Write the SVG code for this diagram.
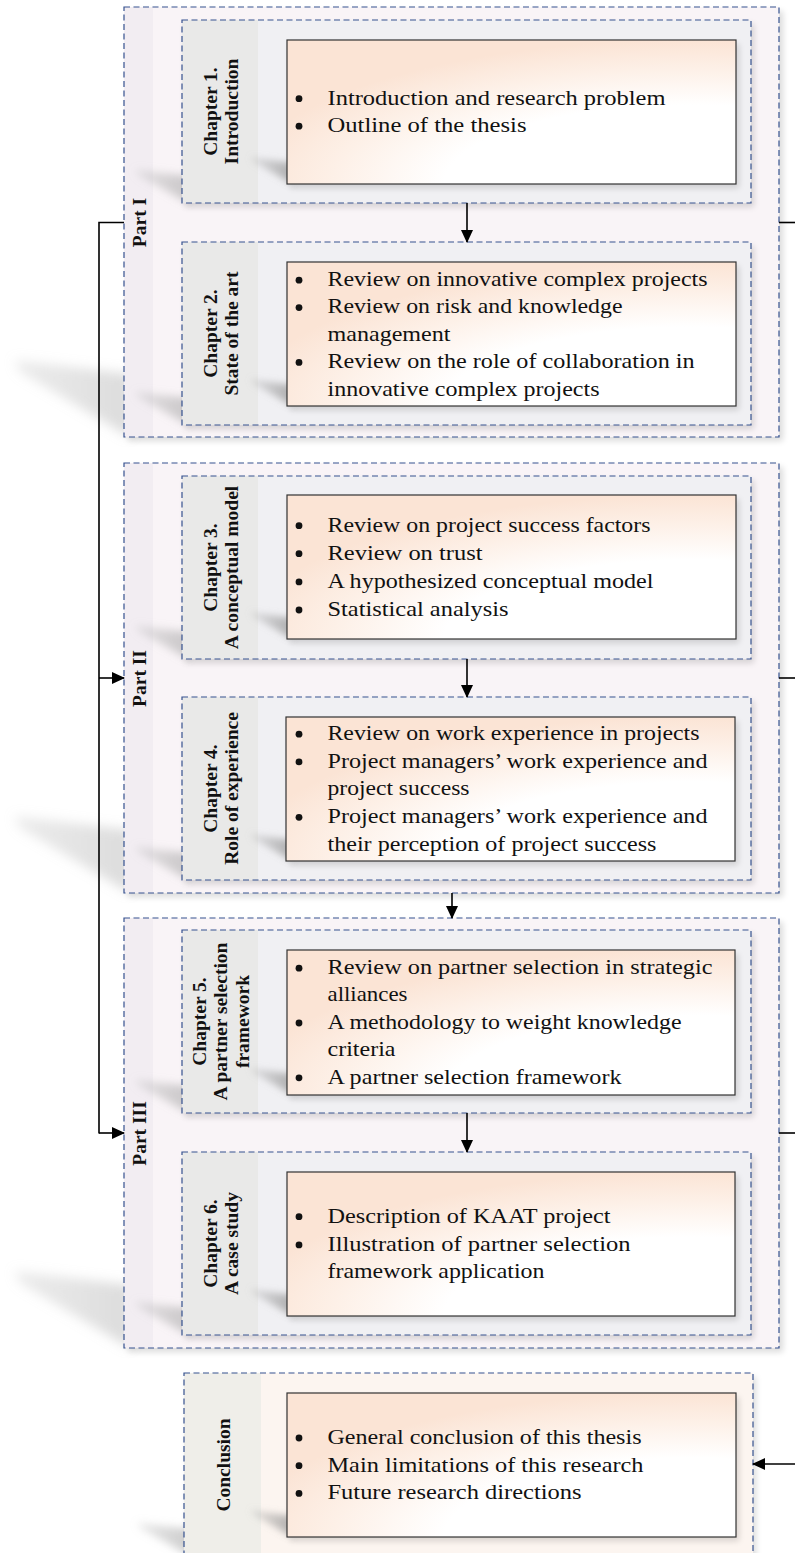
<svg xmlns="http://www.w3.org/2000/svg" width="795" height="1553" viewBox="0 0 795 1553">
<defs>
<style>
.pbg{fill:#f9f4f7}
.strip{fill:#f2edf2}
.dash{fill:none;stroke:#36528f;stroke-width:1.2;stroke-dasharray:6 3.5}
.cbg{fill:#f0f0f3}
.lab{fill:#e9e9e8}
.kbg{fill:#fcf5f0}
.klab{fill:#efeee9}
.box{fill:url(#cg);stroke:#333;stroke-width:1.2}
.ds{fill:#000;opacity:0.14;filter:url(#b3)}
.t{font-family:"Liberation Serif","Times New Roman",serif;font-size:21.5px;fill:#111}
.lbl{font-family:"Liberation Serif","Times New Roman",serif;font-size:19.5px;font-weight:bold;fill:#111;text-anchor:middle}
.conn{fill:none;stroke:#000;stroke-width:1.6}
.bul{fill:#111}
.ps{fill:url(#sg1);filter:url(#b6)}
.cs{fill:url(#sg2);filter:url(#b5)}
.ks{fill:url(#sg3);filter:url(#b4)}
</style>
<radialGradient id="cg" cx="0.9" cy="1" r="1" fx="0.9" fy="1">
<stop offset="0" stop-color="#ffffff"/>
<stop offset="0.55" stop-color="#ffffff"/>
<stop offset="0.8" stop-color="#fdf0e7"/>
<stop offset="1" stop-color="#fbe4d5"/>
</radialGradient>
<linearGradient id="sg1" x1="0" y1="0" x2="1" y2="0">
<stop offset="0" stop-color="#c0c0c0" stop-opacity="0.3"/>
<stop offset="1" stop-color="#b0b0b0" stop-opacity="0.45"/>
</linearGradient>
<linearGradient id="sg2" x1="0" y1="0" x2="1" y2="0">
<stop offset="0" stop-color="#b0b0b0" stop-opacity="0.3"/>
<stop offset="1" stop-color="#9a9a9a" stop-opacity="0.5"/>
</linearGradient>
<linearGradient id="sg3" x1="0" y1="0" x2="1" y2="0">
<stop offset="0" stop-color="#a0a0a0" stop-opacity="0.25"/>
<stop offset="1" stop-color="#808080" stop-opacity="0.6"/>
</linearGradient>
<filter id="b6" x="-50%" y="-50%" width="200%" height="200%"><feGaussianBlur stdDeviation="6"/></filter>
<filter id="b5" x="-50%" y="-50%" width="200%" height="200%"><feGaussianBlur stdDeviation="4.5"/></filter>
<filter id="b4" x="-50%" y="-50%" width="200%" height="200%"><feGaussianBlur stdDeviation="3.5"/></filter>
<filter id="b3" x="-50%" y="-50%" width="200%" height="200%"><feGaussianBlur stdDeviation="3"/></filter>
<marker id="ah" markerUnits="userSpaceOnUse" markerWidth="13" markerHeight="12" refX="12" refY="6" orient="auto">
<path d="M0,0 L13,6 L0,12 z" fill="#000"/>
</marker>
</defs>

<!-- Part I -->
<g id="part1">
<polygon class="ps" points="130,437 20,372 14,360 130,374"/>
<rect class="ds" x="128" y="11" width="655" height="430" opacity="0.08"/>
<rect class="pbg" x="124" y="7" width="655" height="430"/>
<rect class="strip" x="124" y="7" width="29" height="430"/>
<rect class="dash" x="124" y="7" width="655" height="430"/>
<text class="lbl" transform="translate(146,222.5) rotate(-90)">Part I</text>
</g>
<g id="ch1">
<polygon class="cs" points="188,203 140,176 135,170 188,176"/>
<rect class="ds" x="185" y="24" width="569" height="183" opacity="0.08"/>
<rect class="cbg" x="182" y="20" width="569" height="183"/>
<rect class="lab" x="182" y="20" width="76" height="183"/>
<rect class="dash" x="182" y="20" width="569" height="183"/>
<text class="lbl" transform="translate(216.5,111.5) rotate(-90)">Chapter 1.</text>
<text class="lbl" transform="translate(238,111.5) rotate(-90)">Introduction</text>
<polygon class="ks" points="292,184 254,162 250,157 292,163"/>
<rect class="ds" x="290" y="44" width="449" height="144"/>
<rect class="box" x="287" y="40" width="449" height="144"/>
<circle class="bul" cx="299" cy="98.7" r="3.4"/>
<circle class="bul" cx="299" cy="126.2" r="3.4"/>
<text class="t" x="327.5" y="104.5" textLength="338" lengthAdjust="spacingAndGlyphs">Introduction and research problem</text>
<text class="t" x="327.5" y="132" textLength="199" lengthAdjust="spacingAndGlyphs">Outline of the thesis</text>
</g>
<g id="ch2">
<polygon class="cs" points="188,425 140,398 135,392 188,398"/>
<rect class="ds" x="185" y="246" width="569" height="183" opacity="0.08"/>
<rect class="cbg" x="182" y="242" width="569" height="183"/>
<rect class="lab" x="182" y="242" width="76" height="183"/>
<rect class="dash" x="182" y="242" width="569" height="183"/>
<text class="lbl" transform="translate(216.5,333.5) rotate(-90)">Chapter 2.</text>
<text class="lbl" transform="translate(238,333.5) rotate(-90)">State of the art</text>
<polygon class="ks" points="292,406 254,384 250,379 292,385"/>
<rect class="ds" x="290" y="266" width="449" height="144"/>
<rect class="box" x="287" y="262" width="449" height="144"/>
<circle class="bul" cx="299" cy="280.2" r="3.4"/>
<circle class="bul" cx="299" cy="307.6" r="3.4"/>
<circle class="bul" cx="299" cy="362.4" r="3.4"/>
<text class="t" x="327.5" y="286" textLength="380" lengthAdjust="spacingAndGlyphs">Review on innovative complex projects</text>
<text class="t" x="327.5" y="313.4" textLength="295" lengthAdjust="spacingAndGlyphs">Review on risk and knowledge</text>
<text class="t" x="327.5" y="340.8" textLength="123" lengthAdjust="spacingAndGlyphs">management</text>
<text class="t" x="327.5" y="368.2" textLength="367" lengthAdjust="spacingAndGlyphs">Review on the role of collaboration in</text>
<text class="t" x="327.5" y="395.6" textLength="272" lengthAdjust="spacingAndGlyphs">innovative complex projects</text>
</g>

<!-- Part II -->
<g id="part2">
<polygon class="ps" points="130,893 20,828 14,816 130,830"/>
<rect class="ds" x="128" y="467" width="655" height="430" opacity="0.08"/>
<rect class="pbg" x="124" y="463" width="655" height="430"/>
<rect class="strip" x="124" y="463" width="29" height="430"/>
<rect class="dash" x="124" y="463" width="655" height="430"/>
<text class="lbl" transform="translate(146,678.5) rotate(-90)">Part II</text>
</g>
<g id="ch3">
<polygon class="cs" points="188,659 140,632 135,626 188,632"/>
<rect class="ds" x="185" y="480" width="569" height="183" opacity="0.08"/>
<rect class="cbg" x="182" y="476" width="569" height="183"/>
<rect class="lab" x="182" y="476" width="76" height="183"/>
<rect class="dash" x="182" y="476" width="569" height="183"/>
<text class="lbl" transform="translate(216.5,567.5) rotate(-90)">Chapter 3.</text>
<text class="lbl" transform="translate(238,567.5) rotate(-90)">A conceptual model</text>
<polygon class="ks" points="292,639 254,617 250,612 292,618"/>
<rect class="ds" x="290" y="499" width="449" height="144"/>
<rect class="box" x="287" y="495" width="449" height="144"/>
<circle class="bul" cx="299" cy="525.7" r="3.4"/>
<circle class="bul" cx="299" cy="553.7" r="3.4"/>
<circle class="bul" cx="299" cy="581.9" r="3.4"/>
<circle class="bul" cx="299" cy="610" r="3.4"/>
<text class="t" x="327.5" y="531.5" textLength="323" lengthAdjust="spacingAndGlyphs">Review on project success factors</text>
<text class="t" x="327.5" y="559.5" textLength="155" lengthAdjust="spacingAndGlyphs">Review on trust</text>
<text class="t" x="327.5" y="587.7" textLength="326" lengthAdjust="spacingAndGlyphs">A hypothesized conceptual model</text>
<text class="t" x="327.5" y="615.8" textLength="181" lengthAdjust="spacingAndGlyphs">Statistical analysis</text>
</g>
<g id="ch4">
<polygon class="cs" points="188,880 140,853 135,847 188,853"/>
<rect class="ds" x="185" y="701" width="569" height="183" opacity="0.08"/>
<rect class="cbg" x="182" y="697" width="569" height="183"/>
<rect class="lab" x="182" y="697" width="76" height="183"/>
<rect class="dash" x="182" y="697" width="569" height="183"/>
<text class="lbl" transform="translate(216.5,788.5) rotate(-90)">Chapter 4.</text>
<text class="lbl" transform="translate(238,788.5) rotate(-90)">Role of experience</text>
<polygon class="ks" points="292,861 254,839 250,834 292,840"/>
<rect class="ds" x="290" y="721" width="448" height="144"/>
<rect class="box" x="286" y="717" width="449" height="144"/>
<circle class="bul" cx="299" cy="734.2" r="3.4"/>
<circle class="bul" cx="299" cy="761.9" r="3.4"/>
<circle class="bul" cx="299" cy="817.3" r="3.4"/>
<text class="t" x="327.5" y="740" textLength="372" lengthAdjust="spacingAndGlyphs">Review on work experience in projects</text>
<text class="t" x="327.5" y="767.7" textLength="380" lengthAdjust="spacingAndGlyphs">Project managers’ work experience and</text>
<text class="t" x="327.5" y="795.4" textLength="142" lengthAdjust="spacingAndGlyphs">project success</text>
<text class="t" x="327.5" y="823.1" textLength="380" lengthAdjust="spacingAndGlyphs">Project managers’ work experience and</text>
<text class="t" x="327.5" y="850.8" textLength="329" lengthAdjust="spacingAndGlyphs">their perception of project success</text>
</g>

<!-- Part III -->
<g id="part3">
<polygon class="ps" points="130,1348 20,1283 14,1271 130,1285"/>
<rect class="ds" x="128" y="922" width="655" height="430" opacity="0.08"/>
<rect class="pbg" x="124" y="918" width="655" height="430"/>
<rect class="strip" x="124" y="918" width="29" height="430"/>
<rect class="dash" x="124" y="918" width="655" height="430"/>
<text class="lbl" transform="translate(146,1133.5) rotate(-90)">Part III</text>
</g>
<g id="ch5">
<polygon class="cs" points="188,1113 140,1086 135,1080 188,1086"/>
<rect class="ds" x="185" y="934" width="569" height="183" opacity="0.08"/>
<rect class="cbg" x="182" y="930" width="569" height="183"/>
<rect class="lab" x="182" y="930" width="76" height="183"/>
<rect class="dash" x="182" y="930" width="569" height="183"/>
<text class="lbl" transform="translate(205.5,1021.5) rotate(-90)">Chapter 5.</text>
<text class="lbl" transform="translate(227,1021.5) rotate(-90)">A partner selection</text>
<text class="lbl" transform="translate(248.5,1021.5) rotate(-90)">framework</text>
<polygon class="ks" points="292,1095 254,1073 250,1068 292,1074"/>
<rect class="ds" x="290" y="954" width="448" height="145"/>
<rect class="box" x="287" y="950" width="448" height="145"/>
<circle class="bul" cx="299" cy="968.2" r="3.4"/>
<circle class="bul" cx="299" cy="1023" r="3.4"/>
<circle class="bul" cx="299" cy="1077.8" r="3.4"/>
<text class="t" x="327.5" y="974" textLength="385" lengthAdjust="spacingAndGlyphs">Review on partner selection in strategic</text>
<text class="t" x="327.5" y="1001.4" textLength="80" lengthAdjust="spacingAndGlyphs">alliances</text>
<text class="t" x="327.5" y="1028.8" textLength="354" lengthAdjust="spacingAndGlyphs">A methodology to weight knowledge</text>
<text class="t" x="327.5" y="1056.2" textLength="68" lengthAdjust="spacingAndGlyphs">criteria</text>
<text class="t" x="327.5" y="1083.6" textLength="294" lengthAdjust="spacingAndGlyphs">A partner selection framework</text>
</g>
<g id="ch6">
<polygon class="cs" points="188,1335 140,1308 135,1302 188,1308"/>
<rect class="ds" x="185" y="1156" width="569" height="183" opacity="0.08"/>
<rect class="cbg" x="182" y="1152" width="569" height="183"/>
<rect class="lab" x="182" y="1152" width="76" height="183"/>
<rect class="dash" x="182" y="1152" width="569" height="183"/>
<text class="lbl" transform="translate(216.5,1243.5) rotate(-90)">Chapter 6.</text>
<text class="lbl" transform="translate(238,1243.5) rotate(-90)">A case study</text>
<polygon class="ks" points="292,1316 254,1294 250,1289 292,1295"/>
<rect class="ds" x="290" y="1176" width="448" height="144"/>
<rect class="box" x="287" y="1172" width="448" height="144"/>
<circle class="bul" cx="299" cy="1216.7" r="3.4"/>
<circle class="bul" cx="299" cy="1244.9" r="3.4"/>
<text class="t" x="327.5" y="1222.5" textLength="283" lengthAdjust="spacingAndGlyphs">Description of KAAT project</text>
<text class="t" x="327.5" y="1250.7" textLength="303" lengthAdjust="spacingAndGlyphs">Illustration of partner selection</text>
<text class="t" x="327.5" y="1278.4" textLength="217" lengthAdjust="spacingAndGlyphs">framework application</text>
</g>

<!-- Conclusion -->
<g id="conclusion">
<polygon class="cs" points="190,1556 142,1529 137,1523 190,1529"/>
<rect class="ds" x="187" y="1377" width="569" height="183" opacity="0.08"/>
<rect class="kbg" x="184" y="1373" width="569" height="183"/>
<rect class="klab" x="184" y="1373" width="77" height="183"/>
<rect class="dash" x="184" y="1373" width="569" height="183"/>
<text class="lbl" transform="translate(230,1465) rotate(-90)">Conclusion</text>
<polygon class="ks" points="292,1537 254,1515 250,1510 292,1516"/>
<rect class="ds" x="290" y="1397" width="449" height="144"/>
<rect class="box" x="287" y="1393" width="449" height="144"/>
<circle class="bul" cx="299" cy="1438" r="3.4"/>
<circle class="bul" cx="299" cy="1465.7" r="3.4"/>
<circle class="bul" cx="299" cy="1493.4" r="3.4"/>
<text class="t" x="327.5" y="1444" textLength="314" lengthAdjust="spacingAndGlyphs">General conclusion of this thesis</text>
<text class="t" x="327.5" y="1471.7" textLength="316" lengthAdjust="spacingAndGlyphs">Main limitations of this research</text>
<text class="t" x="327.5" y="1499.4" textLength="254" lengthAdjust="spacingAndGlyphs">Future research directions</text>
</g>

<!-- Connectors -->
<g id="connectors">
<line class="conn" x1="467" y1="203" x2="467" y2="242" marker-end="url(#ah)"/>
<line class="conn" x1="467" y1="659" x2="467" y2="697" marker-end="url(#ah)"/>
<line class="conn" x1="452" y1="893" x2="452" y2="918" marker-end="url(#ah)"/>
<line class="conn" x1="467" y1="1113" x2="467" y2="1152" marker-end="url(#ah)"/>
<polyline class="conn" points="124,222.5 99,222.5 99,1133.5"/>
<line class="conn" x1="99" y1="678" x2="124" y2="678" marker-end="url(#ah)"/>
<line class="conn" x1="99" y1="1133" x2="124" y2="1133" marker-end="url(#ah)"/>
<line class="conn" x1="779" y1="222.5" x2="795" y2="222.5"/>
<line class="conn" x1="779" y1="678" x2="795" y2="678"/>
<line class="conn" x1="779" y1="1133" x2="795" y2="1133"/>
<line class="conn" x1="795" y1="1464" x2="753" y2="1464" marker-end="url(#ah)"/>
</g>
</svg>
